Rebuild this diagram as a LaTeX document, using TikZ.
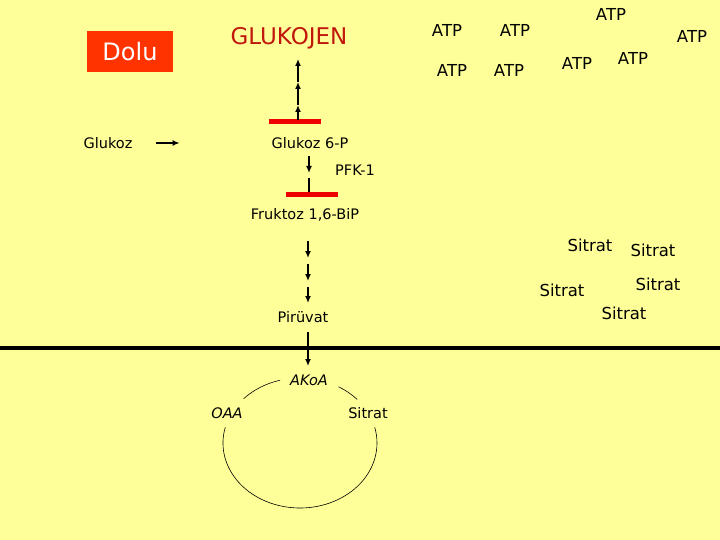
\documentclass[tikz,border=0pt]{standalone}
\usepackage{fontspec}
\setmainfont{DejaVu Sans}
\usetikzlibrary{arrows.meta}

\definecolor{fond}{HTML}{FFFF99}
\definecolor{rougedolu}{HTML}{FF3300}
\definecolor{rougeglu}{HTML}{C0180C}
\definecolor{rougebarre}{HTML}{EE0000}

\tikzset{
  lbl/.style={font=\fontsize{14.5}{16}\selectfont, inner sep=0pt},
  atp/.style={font=\fontsize{16.5}{18}\selectfont, inner sep=0pt},
  fleche/.style={line width=1.6pt, -{Latex[length=7pt,width=6pt]}},
  trait/.style={line width=1.6pt},
  barre/.style={draw=rougebarre, line width=5pt},
}

\begin{document}
\begin{tikzpicture}[x=1pt,y=-1pt]
        \fill[fond] (0,0) rectangle (720,540);
        \useasboundingbox (0,0) rectangle (720,540);

        % cadre Dolu et glycogene
        \node[fill=rougedolu, text=white, minimum width=86pt, minimum height=41pt,
              font=\fontsize{24}{26}\selectfont] (dolu) at (130,51.5) {Dolu};
        \node[text=rougeglu, font=\fontsize{23}{25}\selectfont, inner sep=0pt] (glukojen) at (289,38) {GLUKOJEN};

        % les ATP
        \node[atp] (atp1) at (447,30) {ATP};
        \node[atp] (atp2) at (515,30) {ATP};
        \node[atp] (atp3) at (452,70) {ATP};
        \node[atp] (atp4) at (509,70) {ATP};
        \node[atp] (atp5) at (611,14) {ATP};
        \node[atp] (atp6) at (692,36) {ATP};
        \node[atp] (atp7) at (577,63) {ATP};
        \node[atp] (atp8) at (633,58) {ATP};

        % les Sitrat
        \node[atp] (sit1) at (590,245) {Sitrat};
        \node[atp] (sit2) at (653,250) {Sitrat};
        \node[atp] (sit3) at (562,290) {Sitrat};
        \node[atp] (sit4) at (658,284) {Sitrat};
        \node[atp] (sit5) at (624,313) {Sitrat};

        % glycolyse
        \node[lbl] (glukoz) at (108,143) {Glukoz};
        \node[lbl] (g6p) at (310,143) {Glukoz 6-P};
        \node[lbl] (pfk) at (355,170) {PFK-1};
        \node[lbl] (f16) at (305,215) {Fruktoz 1,6-BiP};
        \node[lbl] (piruvat) at (303,317) {Pirüvat};

        \coordinate (glA) at ([xshift=23pt]glukoz.east);
        \coordinate (glB) at ([xshift=47pt]glukoz.east);
        \draw[fleche] (glA) -- (glB);

        % vers le glycogene (bloque)
        \draw[barre] (269,122) -- (321,122);
        \coordinate (up0) at (298,120);
        \coordinate (up1) at (298,105);
        \coordinate (up2) at (298,82);
        \coordinate (up3) at (298,59);
        \draw[fleche] (up0) -- (up1);
        \draw[fleche] (up1) -- (up2);
        \draw[fleche] (up2) -- (up3);

        % PFK-1 (bloque)
        \coordinate (pfA) at (309,156);
        \coordinate (pfB) at (309,173);
        \coordinate (pfC) at (309,178);
        \coordinate (bar2) at (309,195);
        \draw[fleche] (pfA) -- (pfB);
        \draw[trait] (pfC) -- (bar2);
        \draw[barre] (286,195) -- (338,195);

        % vers le pyruvate
        \draw[fleche] (308,241) -- (308,258);
        \draw[fleche] (308,264) -- (308,281);
        \draw[fleche] (308,287) -- (308,303);

        % membrane mitochondriale
        \draw[line width=4pt] (0,348) -- (720,348);

        % cycle de Krebs
        \node[lbl, font=\fontsize{14.5}{16}\selectfont\itshape] (akoa) at (309,380) {AKoA};
        \node[lbl, font=\fontsize{14.5}{16}\selectfont\itshape] (oaa) at (227,413) {OAA};
        \node[lbl] (sitratc) at (368,413) {Sitrat};
        \coordinate (acA) at (308,332);
        \coordinate (acB) at (308,366);
        \draw[fleche] (acA) -- (acB);

        \coordinate (centre) at (300,443);
        \draw[line width=0.6pt] (centre) ++(105:77pt and 65pt)
                arc[start angle=105, end angle=137, x radius=77pt, y radius=65pt];
        \draw[line width=0.6pt] (centre) ++(42:77pt and 65pt)
                arc[start angle=42, end angle=60, x radius=77pt, y radius=65pt];
        \draw[line width=0.6pt] (centre) ++(166:77pt and 65pt)
                arc[start angle=166, end angle=374, x radius=77pt, y radius=65pt];
\end{tikzpicture}
\end{document}
